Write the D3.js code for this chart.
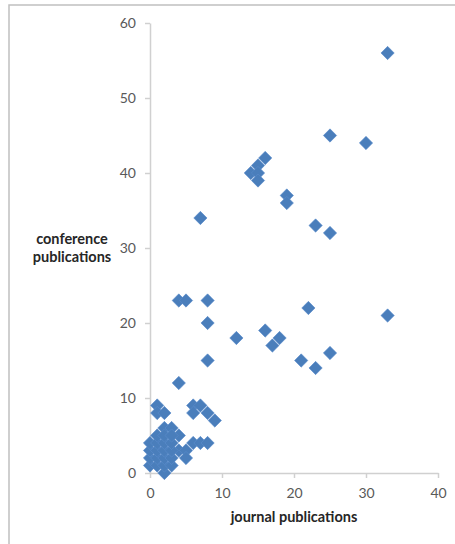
<!DOCTYPE html>
<html>
<head>
<meta charset="utf-8">
<script src="https://cdn.jsdelivr.net/npm/d3@7"></script>
<style>
  body { margin: 0; background: #fff; }
  svg { display: block; }
  .tick text { font-family: Lato, "Open Sans", sans-serif; font-size: 14px; fill: #595959; }
  .axis-title { font-family: Lato, "Open Sans", sans-serif; font-size: 14.5px; font-weight: bold; fill: #262626; }
</style>
</head>
<body>
<svg id="chart"></svg>
<script>
// journal vs conference publications
var journal = [33, 25, 30, 16, 15, 14, 15, 15, 19, 19, 7, 23, 25,
               4, 5, 8, 8, 22, 33, 12, 16, 18, 17, 21, 23, 25, 8,
               4, 1, 1, 2, 6, 7, 6, 8, 9, 6, 7, 8, 4, 4, 5, 5, 2,
               2, 3, 0, 0, 0, 0, 1, 1, 1, 1, 1, 2, 2, 2, 2, 2,
               3, 3, 3, 3, 3];
var conference = [56, 45, 44, 42, 41, 40, 40, 39, 37, 36, 34, 33, 32,
                  23, 23, 23, 20, 22, 21, 18, 19, 18, 17, 15, 14, 16, 15,
                  12, 9, 8, 8, 9, 9, 8, 8, 7, 4, 4, 4, 5, 3, 3, 2, 0,
                  6, 6, 1, 2, 3, 4, 1, 2, 3, 4, 5, 1, 2, 3, 4, 5,
                  1, 2, 3, 4, 5];
var xTicks = [0, 10, 20, 30, 40];
var yTicks = [0, 10, 20, 30, 40, 50, 60];

var width = 455, height = 544;
var margin = { top: 23, left: 150, right: 17, bottom: 71 };

var svg = d3.select("#chart")
    .attr("width", width)
    .attr("height", height);

// outer frame of the chart area
svg.append("rect")
    .attr("x", 9)
    .attr("y", 5)
    .attr("width", width + 10)
    .attr("height", height + 10)
    .attr("fill", "none")
    .attr("stroke", "#c0c0c0")
    .attr("stroke-width", 1.5);

var x = d3.scaleLinear().domain([0, 40]).range([margin.left, width - margin.right]);
var y = d3.scaleLinear().domain([0, 60]).range([height - margin.bottom, margin.top]);

var xAxis = svg.append("g")
    .attr("transform", "translate(0," + y(0) + ")")
    .call(d3.axisBottom(x).tickValues(xTicks).tickSize(5).tickPadding(10).tickSizeOuter(0));

var yAxis = svg.append("g")
    .attr("transform", "translate(" + x(0) + ",0)")
    .call(d3.axisLeft(y).tickValues(yTicks).tickSize(5).tickPadding(9).tickSizeOuter(0));

[xAxis, yAxis].forEach(function(g) {
    g.select(".domain").attr("stroke", "#d0d0d0").attr("stroke-width", 1.5);
    g.selectAll(".tick line").attr("stroke", "#d0d0d0").attr("stroke-width", 1.5);
});

var points = journal.map(function(d, i) { return { j: d, c: conference[i] }; });

var diamond = d3.symbol().type(d3.symbolSquare).size(88);

svg.append("g")
    .selectAll("path")
    .data(points)
    .enter().append("path")
    .attr("d", diamond)
    .attr("transform", function(d) { return "translate(" + x(d.j) + "," + y(d.c) + ") rotate(45)"; })
    .attr("fill", "#4a7ebb")
    .attr("stroke", "#5b8ccb")
    .attr("stroke-width", 0.6);

svg.append("text")
    .attr("class", "axis-title")
    .attr("x", 294)
    .attr("y", 522)
    .attr("text-anchor", "middle")
    .text("journal publications");

var yt = svg.append("text")
    .attr("class", "axis-title")
    .attr("text-anchor", "middle");
yt.append("tspan").attr("x", 72).attr("y", 244).text("conference");
yt.append("tspan").attr("x", 72).attr("y", 262).text("publications");
</script>
</body>
</html>
